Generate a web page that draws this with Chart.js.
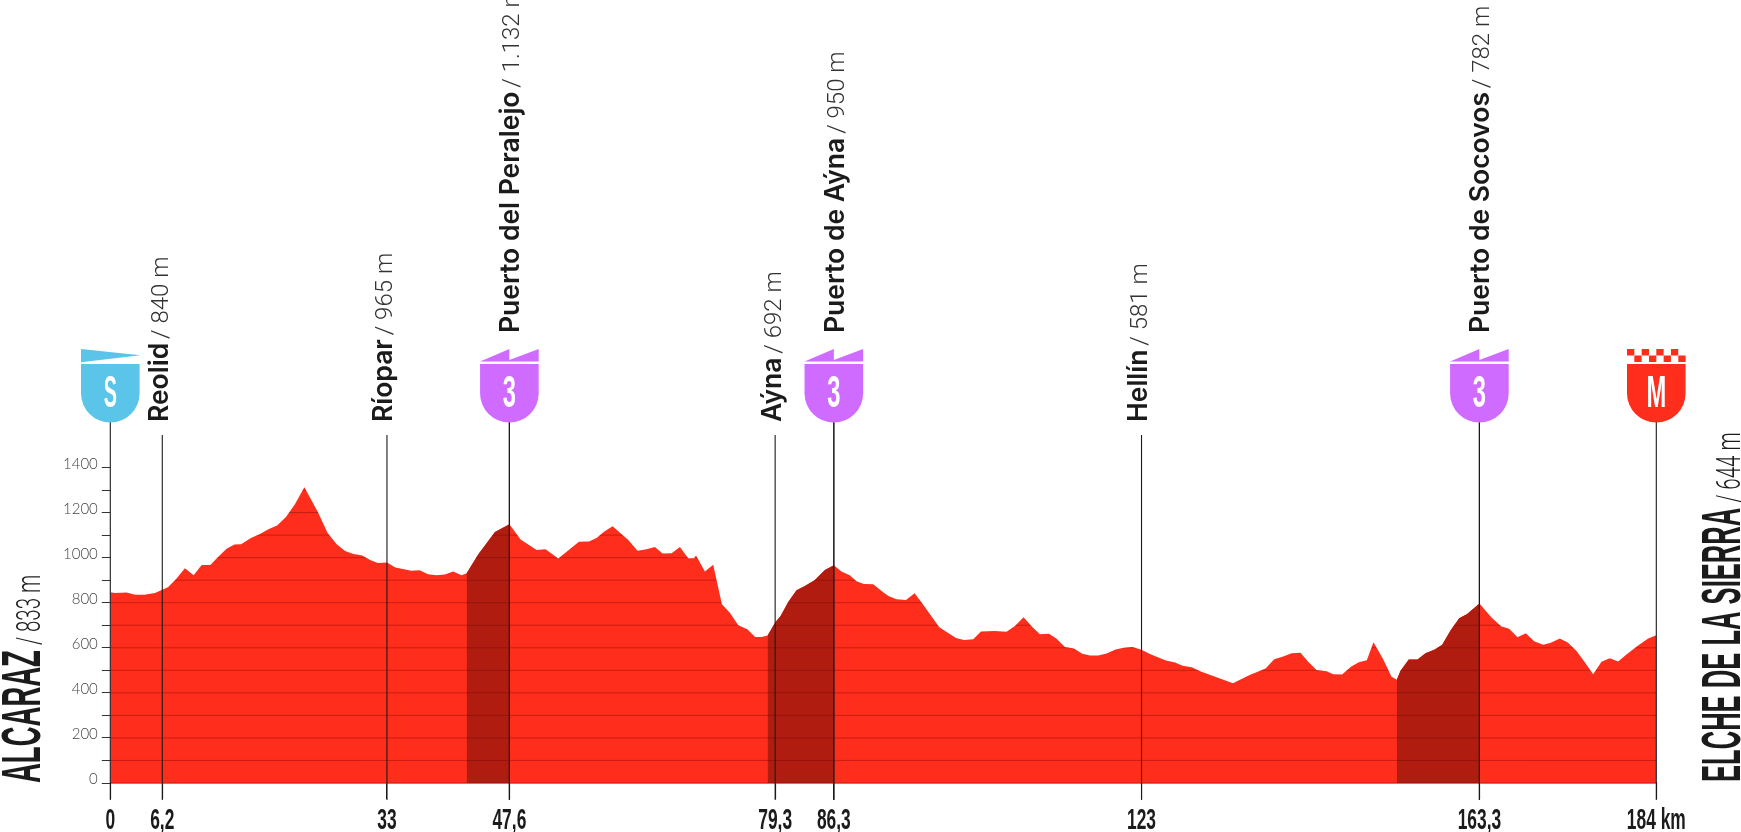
<!DOCTYPE html>
<html>
<head>
<meta charset="utf-8">
<title>Alcaraz - Elche de la Sierra</title>
<script src="https://cdn.jsdelivr.net/npm/chart.js@4"></script>
<style>
    html, body { margin: 0; padding: 0; background: #fff; overflow: hidden; }
    canvas { display: block; }
</style>
</head>
<body>
<canvas id="perfil" width="1741" height="832"></canvas>
<script>
// km and metres
const profileKm = [0, 0.56, 1.95, 2.95, 4.06, 5.33, 6.2, 6.92, 7.9, 8.9, 9.94, 10.9, 11.93, 12.88, 13.87, 14.8, 15.6,
    16.78, 17.85, 18.85, 19.9, 20.95, 22, 23.15, 24.8, 25.9, 27, 28, 29, 30.05, 31, 31.9, 33, 34, 34.9, 35.9, 36.9,
    37.9, 38.9, 39.9, 40.9, 41.9, 42.5, 43.9, 45.28, 45.88, 47.6, 48.94, 50.85, 51.92, 53.43, 55.9, 57.09, 58, 58.88,
    59.91, 61.78, 62.89, 63.96, 64.96, 65.87, 66.95, 67.94, 68.93, 69.65, 69.85, 70.05, 70.92, 71.91, 72.95, 73.9,
    74.9, 75.97, 76.92, 77.68, 78.4, 79.3, 79.95, 80.86, 81.85, 82.85, 84.04, 85.23, 86.3, 87.2, 88.2, 89, 89.88, 91,
    92, 92.8, 93.79, 94.9, 95.93, 96.77, 98.88, 100.86, 101.82, 102.93, 103.85, 105.5, 106.9, 107.9, 108.93, 110,
    110.88, 111.96, 112.87, 113.86, 114.94, 115.93, 116.84, 117.84, 118.83, 119.9, 120.9, 121.9, 123, 124, 125.9, 127,
    127.9, 129, 130, 133.9, 135.9, 137.8, 138.82, 139.9, 140.9, 141.96, 142.88, 143.87, 145.06, 145.86, 146.93,
    147.97, 148.92, 149.87, 150.67, 151.82, 152.82, 153.45, 153.89, 154.88, 155.92, 156.87, 157.98, 158.86, 159.89,
    160.89, 161.84, 163.3, 164.74, 165.93, 166.85, 167.84, 168.84, 169.83, 170.9, 171.82, 172.89, 173.88, 174.88,
    175.87, 176.87, 177.86, 178.85, 179.85, 180.84, 182.23, 183.43, 184.4];
const profileElev = [846, 843, 845, 835, 835, 843, 857, 870, 907, 953, 922, 967, 967, 1004, 1040, 1058, 1059,
    1087, 1105, 1126, 1143, 1180, 1236, 1312, 1199, 1111, 1059, 1030, 1016, 1010, 990, 976, 979, 956, 950, 942, 944,
    926, 922, 925, 939, 922, 931, 1015, 1084, 1114, 1148, 1081, 1034, 1037, 996, 1071, 1072, 1087, 1115,
    1139, 1078, 1031, 1037, 1047, 1018, 1019, 1047, 997, 997, 1009, 997, 939, 969, 793, 756,
    700, 682, 648, 648, 654, 712, 741, 803, 855, 874, 901, 945, 966, 939, 922, 895, 883, 882,
    852, 830, 815, 812, 842, 801, 691, 643, 634, 638, 672, 675, 671, 697, 736, 691,
    660, 662, 640, 604, 597, 573, 566, 566, 575, 592, 600, 603, 591, 572, 544, 535,
    520, 514, 496, 443, 479, 508, 549, 561, 576, 578, 538, 501, 496, 483, 482,
    516, 536, 545, 625, 549, 471, 458, 498, 548, 548, 576, 592, 614, 679,
    731, 750, 796, 734, 694, 685, 647, 665, 629, 614, 622, 641, 622, 586,
    536, 483, 538, 554, 539, 570, 610, 641, 656];

// dark stretches before each categorised climb
const climbStarts = [42.5, 78.4, 153.45];
const climbEnds = [47.6, 86.3, 163.3];

// km marks under the axis
const stageKm = [0, 6.2, 33, 47.6, 79.3, 86.3, 123, 163.3, 184.4];
const stageLabels = ['0', '6,2', '33', '47,6', '79,3', '86,3', '123', '163,3', '184 km'];

// names over the marks
const placeKm = [6.2, 33, 47.6, 79.3, 86.3, 123, 163.3];
const placeNames = ['Reolid', 'Ríopar', 'Puerto del Peralejo', 'Aýna', 'Puerto de Aýna', 'Hellín', 'Puerto de Socovos'];
const placeHeights = ['840 m', '965 m', '1.132 m', '692 m', '950 m', '581 m', '782 m'];

// shields
const shieldKm = [0, 47.6, 86.3, 163.3, 184.4];
const shieldLetters = ['S', '3', '3', '3', 'M'];
const shieldKinds = ['start', 'climb', 'climb', 'climb', 'finish'];

const RED = '#ff2d1b';
const DARK = '#b01d10';
const INK = '#1b1b1b';
const NARROW = '"Liberation Sans", sans-serif';
const SHIELD_COLORS = { start: '#5ac5e8', climb: '#d06bff', finish: RED };

function profilePoints() {
    return profileKm.map((km, i) => ({ x: km, y: profileElev[i] }));
}

function climbDataset(i) {
    return {
        data: profilePoints().filter(p => p.x >= climbStarts[i] && p.x <= climbEnds[i]),
        backgroundColor: DARK,
        borderWidth: 0,
        pointRadius: 0,
        fill: 'origin',
        order: 1
    };
}

// tall condensed text: the fonts here are too wide so they get squeezed
function squeezed(ctx, text, x, y, sx, font, color, rotated, align) {
    ctx.save();
    ctx.translate(x, y);
    if (rotated) ctx.rotate(-Math.PI / 2);
    ctx.scale(sx, 1);
    ctx.font = font;
    ctx.fillStyle = color;
    ctx.textAlign = align || 'left';
    ctx.textBaseline = 'alphabetic';
    ctx.fillText(text, 0, 0);
    const w = ctx.measureText(text).width * sx;
    ctx.restore();
    return w;
}

function drawShield(ctx, cx, kind, letter) {
    const half = 29.3, top = 364, bottom = 422.6;
    ctx.fillStyle = SHIELD_COLORS[kind];

    if (kind === 'start') {
        ctx.beginPath();
        ctx.moveTo(cx - half, 349);
        ctx.lineTo(cx + half + 1, 355.3);
        ctx.lineTo(cx - half, 362.2);
        ctx.closePath();
        ctx.fill();
    } else if (kind === 'climb') {
        ctx.beginPath();
        ctx.moveTo(cx - half, 361.5);
        ctx.lineTo(cx, 349);
        ctx.lineTo(cx, 360);
        ctx.lineTo(cx + half, 349);
        ctx.lineTo(cx + half, 361.5);
        ctx.closePath();
        ctx.fill();
    } else {
        const cell = half * 2 / 8;
        for (let c = 0; c < 8; c++) {
            ctx.fillRect(cx - half + c * cell, c % 2 ? 355.5 : 349, cell, 6.5);
        }
    }

    ctx.beginPath();
    ctx.moveTo(cx - half, top);
    ctx.lineTo(cx + half, top);
    ctx.lineTo(cx + half, bottom - half);
    ctx.arc(cx, bottom - half, half, 0, Math.PI);
    ctx.closePath();
    ctx.fill();

    squeezed(ctx, letter, cx, 406.5, letter === 'S' ? 0.45 : 0.54, 'bold 44px ' + NARROW, '#fff', false, 'center');
}

const profileDecor = {
    id: 'profileDecor',
    afterDatasetsDraw(chart) {
        // horizontal lines only show inside the profile
        const { ctx, scales: { x, y } } = chart;
        const pts = profilePoints();
        ctx.save();
        ctx.beginPath();
        ctx.moveTo(x.getPixelForValue(pts[0].x), y.getPixelForValue(0));
        pts.forEach(p => ctx.lineTo(x.getPixelForValue(p.x), y.getPixelForValue(p.y)));
        ctx.lineTo(x.getPixelForValue(pts[pts.length - 1].x), y.getPixelForValue(0));
        ctx.closePath();
        ctx.clip();
        ctx.strokeStyle = 'rgba(110, 0, 0, 0.38)';
        ctx.lineWidth = 1;
        y.ticks.forEach(t => {
            const py = y.getPixelForValue(t.value);
            ctx.beginPath();
            ctx.moveTo(x.left, py);
            ctx.lineTo(x.right, py);
            ctx.stroke();
        });
        ctx.restore();
    },
    afterDraw(chart) {
        const { ctx, scales: { x } } = chart;
        const lineBottom = 800;

        // lines from the names / shields to the km marks
        ctx.save();
        ctx.strokeStyle = INK;
        ctx.lineWidth = 1.1;
        placeKm.concat(shieldKm).forEach(km => {
            const px = x.getPixelForValue(km);
            ctx.beginPath();
            ctx.moveTo(px, shieldKm.includes(km) ? 422 : 435);
            ctx.lineTo(px, lineBottom);
            ctx.stroke();
        });
        ctx.restore();

        shieldKm.forEach((km, i) => drawShield(ctx, x.getPixelForValue(km), shieldKinds[i], shieldLetters[i]));

        // names, rotated
        placeKm.forEach((km, i) => {
            const onShield = shieldKm.includes(km);
            const px = x.getPixelForValue(km) + (onShield ? 10 : 5.5);
            const py = onShield ? 333 : 422;
            ctx.save();
            ctx.translate(px, py);
            ctx.rotate(-Math.PI / 2);
            ctx.textAlign = 'left';
            ctx.textBaseline = 'alphabetic';
            ctx.fillStyle = INK;
            ctx.font = '600 26.5px Inter';
            ctx.fillText(placeNames[i], 0, 0);
            const w = ctx.measureText(placeNames[i]).width;
            ctx.fillStyle = '#333';
            ctx.font = '300 24px Roboto';
            ctx.fillText(' / ' + placeHeights[i], w - 2, 0);
            ctx.restore();
        });

        // km labels
        stageKm.forEach((km, i) => {
            squeezed(ctx, stageLabels[i], x.getPixelForValue(km), 829, 0.6, 'bold 29px ' + NARROW, INK, false, 'center');
        });

        // start and finish towns
        let w = squeezed(ctx, 'ALCARAZ', 40, 783, 0.5, 'bold 55px ' + NARROW, INK, true);
        squeezed(ctx, ' / 833 m', 40, 783 - w, 0.62, '300 33px Roboto', INK, true);
        w = squeezed(ctx, 'ELCHE DE LA SIERRA', 1740, 782, 0.465, 'bold 55px ' + NARROW, INK, true);
        squeezed(ctx, ' / 644 m', 1740, 782 - w, 0.62, '300 33px Roboto', INK, true);
    }
};

new Chart(document.getElementById('perfil').getContext('2d'), {
    type: 'line',
    data: {
        datasets: [
            climbDataset(0),
            climbDataset(1),
            climbDataset(2),
            {
                data: profilePoints(),
                backgroundColor: RED,
                borderWidth: 0,
                pointRadius: 0,
                fill: 'origin',
                order: 2
            }
        ]
    },
    options: {
        responsive: false,
        animation: false,
        devicePixelRatio: 1,
        layout: { padding: { top: 467.5, right: 84.7, bottom: 0, left: 0 } },
        plugins: { legend: { display: false }, tooltip: { enabled: false } },
        scales: {
            x: {
                type: 'linear',
                min: 0,
                max: 184.4,
                afterBuildTicks(scale) { scale.ticks = stageKm.map(v => ({ value: v })); },
                afterFit(scale) { scale.height = 49; },
                ticks: { display: false, autoSkip: false },
                grid: { drawOnChartArea: false, tickLength: 16, color: INK, lineWidth: 1.1 },
                border: { display: true, color: INK, width: 1.5 }
            },
            y: {
                min: 0,
                max: 1400,
                afterFit(scale) { scale.width = 110.3; },
                ticks: {
                    stepSize: 100,
                    autoSkip: false,
                    padding: 4,
                    labelOffset: -3.5,
                    color: '#444',
                    font: { family: 'Lato', size: 15, weight: '300' },
                    callback: v => (v % 200 === 0 ? v : '')
                },
                grid: { drawOnChartArea: false, tickLength: 8.5, color: '#333', lineWidth: 1 },
                border: { display: false }
            }
        }
    },
    plugins: [profileDecor]
});
</script>
</body>
</html>
